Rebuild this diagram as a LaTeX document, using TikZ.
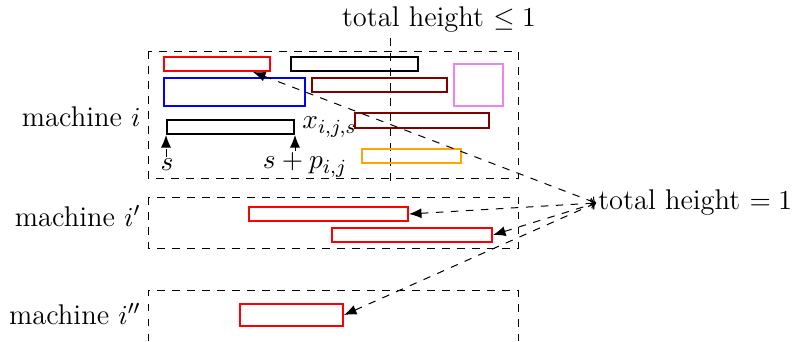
\documentclass[tikz,border=0pt]{standalone}
\usetikzlibrary{fit,arrows.meta}

\tikzset{every picture/.style={line width=0.4pt}}
\tikzset{
  job/.style={draw, line width=0.8pt, inner sep=0pt},
  mbox/.style={dashed},
  lbl/.style={inner sep=0.75pt, font=\fontsize{11.4}{13.5}\selectfont},
  link/.style={dashed, {Latex[length=5pt,width=4pt]}-{To[length=2pt]}},
}
\definecolor{violetbox}{RGB}{238,130,238}
\definecolor{orangebox}{RGB}{255,165,0}
\definecolor{darkredbox}{RGB}{128,0,0}

\begin{document}
\begin{tikzpicture}[x=0.4pt,y=0.4pt,yscale=-1,xscale=1]
\useasboundingbox (0,0) rectangle (792,341);

%Shape: Machine boxes
\draw [mbox] (148,51) rectangle (518,178);
\draw [mbox] (148,197) rectangle (518,248);
\draw [mbox] (148,341) -- (148,290) -- (518,290) -- (518,341);

%Straight Lines: capacity line
\coordinate (vtop) at (390,38);
\coordinate (vbot) at (390,185);
\draw [dashed] (vtop) -- (vbot);

%Shape: jobs on machine i
\node (redA) [job, draw=red, fit={(164,57) (270,71)}] {};
\node (blackA) [job, draw=black, fit={(291,57) (418,71)}] {};
\node (blueA) [job, draw=blue, fit={(164,78) (305,106)}] {};
\node (dredA) [job, draw=darkredbox, fit={(312,78) (447,92)}] {};
\node (violA) [job, draw=violetbox, fit={(454,64) (503,106)}] {};
\node (xijs) [job, draw=black, fit={(167,120) (294,134)}] {};
\node (dredB) [job, draw=darkredbox, fit={(355,113) (489,128)}] {};
\node (orgA) [job, draw=orangebox, fit={(362,149) (461,163)}] {};

%Shape: jobs on machines i' and i''
\node (redB) [job, draw=red, fit={(249,207) (408,221)}] {};
\node (redC) [job, draw=red, fit={(332,228) (492,242)}] {};
\node (redD) [job, draw=red, fit={(240,304) (343,326)}] {};

% Text Node
\node (st) [lbl] at (167,165) {$s$};
% Text Node
\node (sp) [lbl] at (305,165) {$s+p_{i,j}$};
% Text Node
\node (xl) [lbl, anchor=west] at ([xshift=2pt]xijs.east) {$x_{i,j,s}$};

%Straight Lines: start and end arrows
\draw [dashed, -{Latex[length=5pt,width=4pt]}] (st.north -| xijs.south west) -- (xijs.south west);
\draw [dashed, -{Latex[length=5pt,width=4pt]}] (sp.north -| xijs.south east) -- (xijs.south east);

% Text Node
\node (mi) [lbl, anchor=east] at (143,117) {machine $i$};
% Text Node
\node (mii) [lbl, anchor=east] at (143,216) {machine $i'$};
% Text Node
\node (miii) [lbl, anchor=east] at (143,314) {machine $i''$};

% Text Node
\node (le) [lbl] at (439,20) {total height $\leq 1$};
% Text Node
\node (eq) [lbl, anchor=west] at (596,203) {total height $= 1$};

%Straight Lines: same job on all machines
\draw [link] ([xshift=-7.2pt]redA.south east) -- (eq.west);
\draw [link] (redB.east) -- (eq.west);
\draw [link] (redC.east) -- (eq.west);
\draw [link] (redD.east) -- (eq.west);

\end{tikzpicture}
\end{document}
